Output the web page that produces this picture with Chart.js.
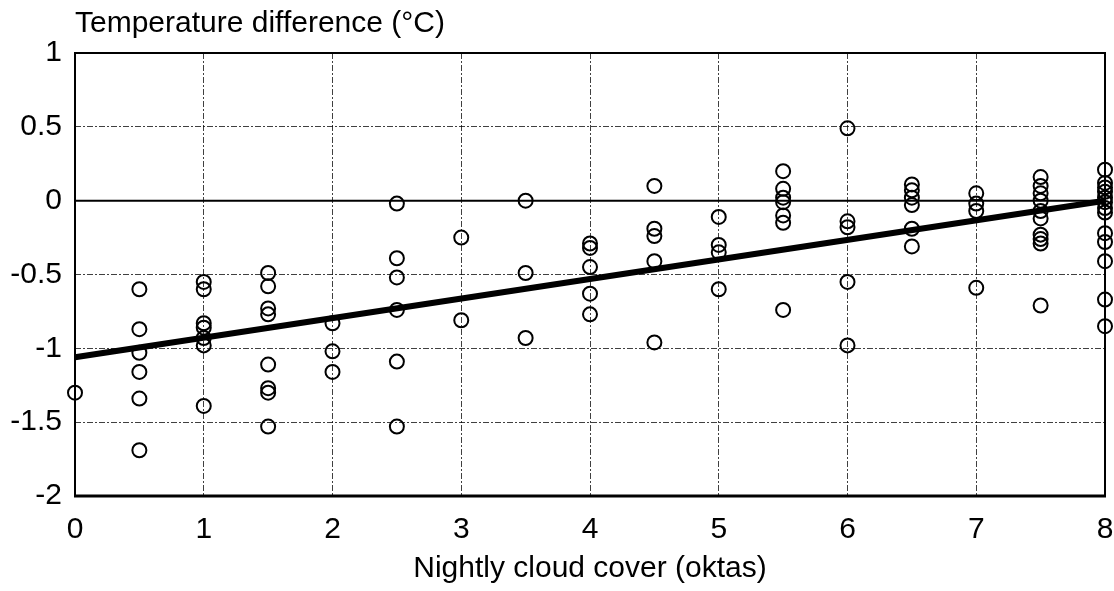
<!DOCTYPE html>
<html>
<head>
<meta charset="utf-8">
<script src="https://cdn.jsdelivr.net/npm/chart.js@4"></script>
<style>
  body { margin: 0; background: #fff; }
  canvas { display: block; }
</style>
</head>
<body>
<canvas id="myChart" width="1114" height="591"></canvas>
<script>
// cloud cover classes (oktas) and measured temperature differences at each
const cloudCover = [0, 0.5, 1, 1.5, 2, 2.5, 3, 3.5, 4, 4.5, 5, 5.5, 6, 6.5, 7, 7.5, 8];
const tempDiff = [
  [-1.3],
  [-0.60, -0.87, -1.03, -1.16, -1.34, -1.69],
  [-0.55, -0.60, -0.83, -0.86, -0.93, -0.98, -1.39],
  [-0.49, -0.58, -0.73, -0.77, -1.11, -1.27, -1.30, -1.53],
  [-0.83, -1.02, -1.16],
  [-0.02, -0.39, -0.52, -0.74, -1.09, -1.53],
  [-0.25, -0.81],
  [0.0, -0.49, -0.93],
  [-0.29, -0.32, -0.45, -0.63, -0.77],
  [0.10, -0.19, -0.24, -0.41, -0.96],
  [-0.11, -0.30, -0.35, -0.60],
  [0.20, 0.08, 0.02, -0.01, -0.10, -0.15, -0.74],
  [0.49, -0.14, -0.18, -0.55, -0.98],
  [0.11, 0.07, 0.02, -0.03, -0.19, -0.31],
  [0.05, -0.02, -0.07, -0.59],
  [0.16, 0.10, 0.05, 0.0, -0.07, -0.12, -0.23, -0.26, -0.29, -0.71],
  [0.21, 0.12, 0.09, 0.06, 0.02, -0.01, -0.05, -0.08, -0.22, -0.28, -0.41, -0.67, -0.85]
];
// regression line end points
const fitX = [0, 8];
const fitY = [-1.06, 0.0];

const xTicks = [0, 1, 2, 3, 4, 5, 6, 7, 8];
const yTicks = [1, 0.5, 0, -0.5, -1, -1.5, -2];

const titleText = 'Temperature difference (°C)';
const xTitle = 'Nightly cloud cover (oktas)';

let points = [];
cloudCover.forEach(function (c, i) {
  tempDiff[i].forEach(function (v) {
    points.push({ x: c, y: v });
  });
});

let fitLine = fitX.map(function (x, i) {
  return { x: x, y: fitY[i] };
});

const font = '"Liberation Sans", Arial, Helvetica, sans-serif';

// frame, zero line and top-left title
const frame = {
  id: 'frame',
  beforeDatasetsDraw(chart) {
    const c = chart.ctx;
    const a = chart.chartArea;
    const y0 = chart.scales.y.getPixelForValue(0);
    c.save();
    c.strokeStyle = '#000';
    c.lineWidth = 2;
    c.beginPath();
    c.moveTo(a.left, y0);
    c.lineTo(a.right, y0);
    c.stroke();
    c.restore();
  },
  afterDraw(chart) {
    const c = chart.ctx;
    const a = chart.chartArea;
    c.save();
    c.strokeStyle = '#000';
    c.lineWidth = 2;
    c.beginPath();
    c.moveTo(a.left, a.bottom);
    c.lineTo(a.left, a.top);
    c.lineTo(a.right, a.top);
    c.lineTo(a.right, a.bottom);
    c.stroke();
    c.lineWidth = 3;
    c.beginPath();
    c.moveTo(a.left - 1, a.bottom);
    c.lineTo(a.right + 1, a.bottom);
    c.stroke();
    c.fillStyle = '#000';
    c.font = '30px ' + font;
    c.textBaseline = 'alphabetic';
    c.textAlign = 'left';
    c.fillText(titleText, 75, 32);
    c.restore();
  }
};

const ctx = document.getElementById('myChart');

new Chart(ctx, {
  type: 'scatter',
  data: {
    datasets: [{
      data: fitLine,
      showLine: true,
      borderColor: '#000',
      borderWidth: 6,
      pointRadius: 0,
      order: 0,
      clip: false
    }, {
      data: points,
      pointRadius: 7,
      pointBorderWidth: 2,
      pointBorderColor: '#000',
      pointBackgroundColor: 'rgba(0,0,0,0)',
      order: 1,
      clip: false
    }]
  },
  options: {
    responsive: false,
    animation: false,
    layout: {
      padding: { top: 53, right: 8, left: 0, bottom: 0 }
    },
    plugins: {
      legend: { display: false },
      tooltip: { enabled: false }
    },
    scales: {
      x: {
        type: 'linear',
        min: 0,
        max: 8,
        afterBuildTicks: function (scale) {
          scale.ticks = xTicks.map(function (v) { return { value: v }; });
        },
        afterFit: function (scale) {
          scale.height = 95;
          scale.paddingLeft = 0;
          scale.paddingRight = 0;
        },
        ticks: {
          color: '#000',
          padding: 16,
          font: { family: font, size: 30 },
          callback: function (v) { return String(v); }
        },
        grid: {
          color: 'rgba(0,0,0,0.75)',
          lineWidth: 1,
          drawTicks: false
        },
        border: { display: false, dash: [6, 2, 2, 2] },
        title: {
          display: true,
          text: xTitle,
          color: '#000',
          padding: { top: 0, bottom: 4 },
          font: { family: font, size: 30 }
        }
      },
      y: {
        type: 'linear',
        min: -2,
        max: 1,
        afterBuildTicks: function (scale) {
          scale.ticks = yTicks.map(function (v) { return { value: v }; });
        },
        afterFit: function (scale) {
          scale.width = 75;
          scale.paddingTop = 0;
          scale.paddingBottom = 0;
        },
        ticks: {
          color: '#000',
          padding: 13,
          font: { family: font, size: 30 },
          callback: function (v) { return String(v); }
        },
        grid: {
          color: 'rgba(0,0,0,0.75)',
          lineWidth: 1,
          drawTicks: false
        },
        border: { display: false, dash: [6, 2, 2, 2] }
      }
    }
  },
  plugins: [frame]
});
</script>
</body>
</html>
